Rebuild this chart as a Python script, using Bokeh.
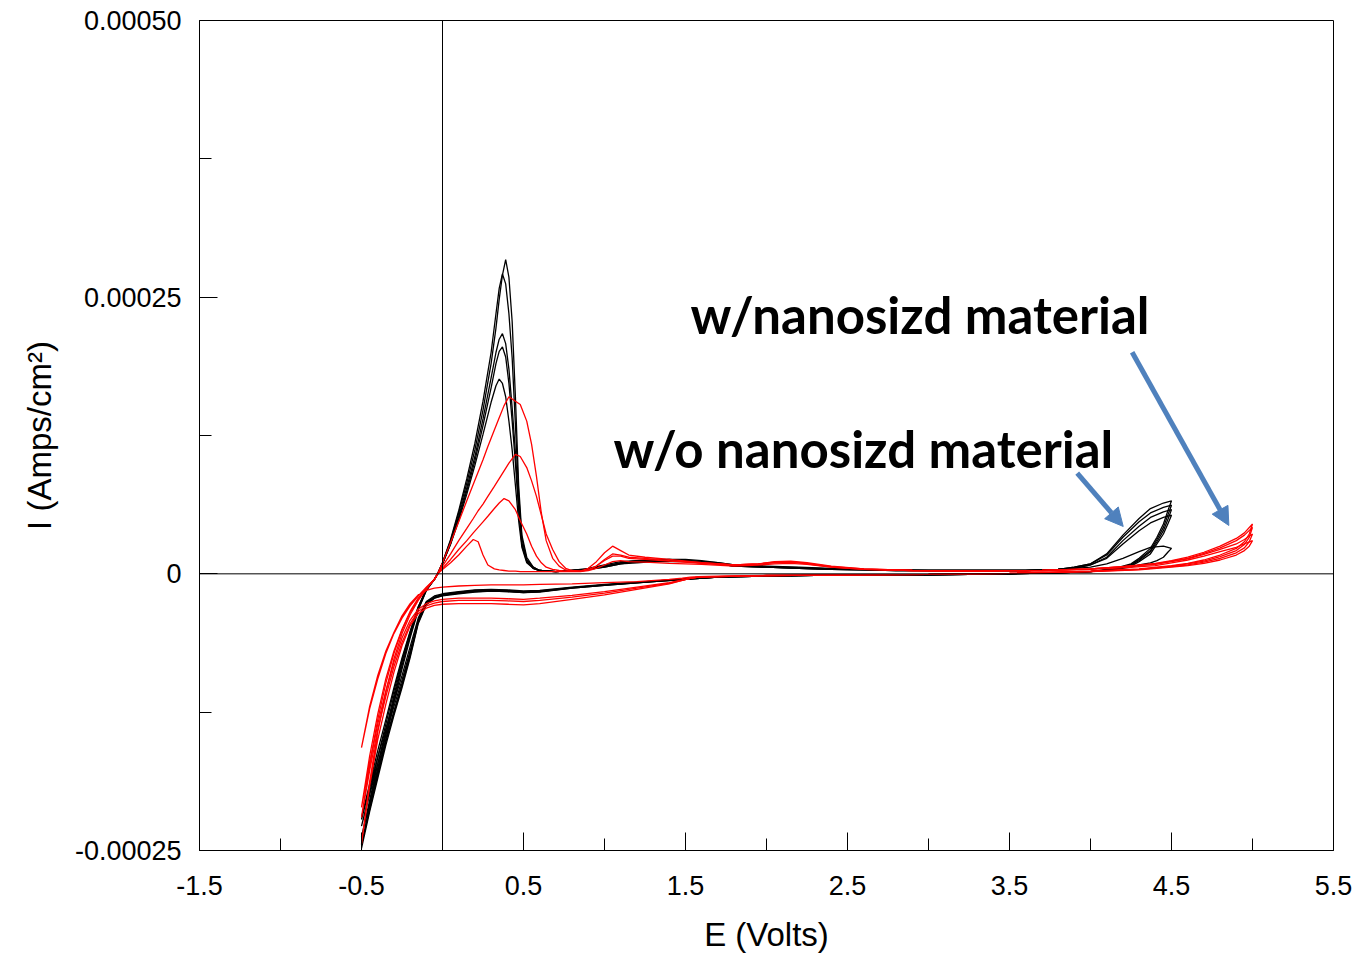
import numpy as np
from bokeh.plotting import figure
from bokeh.models import FixedTicker, Span, Arrow, NormalHead
from bokeh.core.properties import value
from bokeh.embed import file_html
from bokeh.resources import INLINE

UA = 1e-6  # all currents below are in µA/cm²

# ---------------- black cycles: without nanosized material ----------------
E_FWD_BLACK = [-0.50, -0.45, -0.40, -0.35, -0.30, -0.25, -0.20, -0.15, -0.10, -0.05, -0.03,
               0.00, 0.05, 0.10, 0.15, 0.20, 0.25, 0.30, 0.33, 0.35, 0.37, 0.39, 0.41, 0.43,
               0.45, 0.47, 0.49, 0.52, 0.56, 0.60, 0.70, 0.80, 0.90, 1.00, 1.10, 1.20, 1.30,
               1.40, 1.50, 1.60, 1.70, 1.80, 2.00, 2.20, 2.40, 2.60, 2.80, 3.00, 3.30, 3.60,
               3.80, 3.90, 4.00, 4.10, 4.20, 4.30, 4.37, 4.45, 4.50]
E_REV_BLACK = [4.48, 4.45, 4.41, 4.37, 4.30, 4.25, 4.15, 4.00, 3.80, 3.50, 3.00, 2.50, 2.00,
               1.70, 1.50, 1.30, 1.00, 0.80, 0.60, 0.50, 0.40, 0.30, 0.20, 0.10, 0.00, -0.05,
               -0.10, -0.15, -0.20, -0.25, -0.30, -0.35, -0.40, -0.45, -0.50]

I_FWD_B1 = [-248, -212, -180, -150, -116, -86, -58, -33, -15, -5, 0,
            10, 30, 55, 82, 112, 148, 190, 222, 248, 270, 284, 268, 228,
            160, 80, 35, 15, 6, 3, 2, 3, 5, 8, 11, 12, 13,
            13, 13, 12, 10, 8, 7, 6, 5, 4, 3.5, 3, 3, 3,
            4, 6, 9, 18, 35, 50, 59, 64, 66]
I_REV_B1 = [58, 45, 33, 23, 14, 9, 5, 2, 1, 0, -1, -1, -2,
            -3, -5, -7, -10.5, -13, -16, -17, -16, -15.5, -16.5, -18, -20, -22,
            -28, -45, -76, -103, -128, -155, -185, -215, -248]

I_FWD_B2 = [-245, -210, -176, -146, -113, -83, -56, -32, -15, -5, 0,
            10, 31, 57, 86, 118, 156, 200, 235, 258, 271, 262, 235, 195,
            135, 72, 32, 13, 6, 3, 2, 3, 4, 7, 10, 12, 12,
            13, 12, 11, 10, 8, 6.5, 5.5, 4.5, 4, 3.5, 3, 3, 3,
            4, 6, 9, 17, 33, 47, 55, 60, 62]
I_REV_B2 = [54, 42, 31, 21, 13, 8, 4.5, 2, 1, 0, -1, -1, -2,
            -3, -5, -7, -10.5, -13, -16.5, -17, -16, -15.5, -16, -17.5, -19.5, -22,
            -27, -44, -74, -101, -126, -152, -182, -213, -245]

I_FWD_B3 = [-238, -205, -172, -142, -110, -80, -54, -31, -14, -5, 0,
            9, 28, 52, 78, 106, 140, 177, 200, 212, 217, 208, 185, 150,
            110, 62, 28, 12, 5, 3, 2, 3, 4, 7, 10, 11, 12,
            12, 12, 11, 9, 7, 6, 5, 4, 3.5, 3, 3, 3, 3,
            4, 5, 8, 14, 27, 39, 46, 51, 53]
I_REV_B3 = [46, 36, 27, 18, 11, 7, 4, 2, 1, 0, -1, -1, -2,
            -3, -5, -7, -10, -12.5, -16, -16.5, -15.5, -15, -15.5, -17, -19, -21,
            -26, -43, -72, -99, -124, -150, -178, -208, -238]

I_FWD_B4 = [-228, -198, -166, -136, -106, -78, -53, -30, -14, -5, 0,
            9, 27, 50, 75, 102, 134, 168, 190, 201, 205, 196, 172, 138,
            100, 58, 26, 11, 5, 3, 2, 3, 4, 6, 9, 11, 11,
            12, 12, 11, 9, 7, 6, 5, 4, 3.5, 3, 3, 3, 3,
            4, 5, 8, 15, 30, 43, 51, 56, 58]
I_REV_B4 = [50, 39, 29, 20, 12, 8, 4, 2, 1, 0, -1, -1, -2,
            -3, -4.5, -6.5, -10, -12.5, -15.5, -16, -15, -14.5, -15, -16.5, -18.5, -21,
            -26, -42, -70, -96, -120, -145, -172, -200, -228]

I_FWD_B5 = [-220, -190, -160, -132, -103, -76, -52, -30, -14, -5, 0,
            9, 27, 48, 72, 98, 126, 155, 170, 176, 172, 160, 138, 112,
            80, 48, 24, 10, 5, 3, 2, 3, 4, 6, 9, 10, 11,
            11, 11, 10, 9, 7, 6, 5, 4, 3.5, 3, 3, 3, 3,
            4, 5, 6, 9, 14, 20, 24, 25, 23]
I_REV_B5 = [20, 15, 12, 10, 8, 6, 4, 2, 1, 0, -1, -1, -2,
            -3, -4.5, -6.5, -9.5, -12, -15, -15.5, -14.5, -14, -14.5, -16, -18, -20,
            -25, -40, -66, -92, -116, -140, -166, -194, -222]

# ---------------- red cycles: with nanosized material ----------------
E_FWD_RED = [-0.50, -0.45, -0.40, -0.35, -0.30, -0.25, -0.20, -0.15, -0.10, -0.05, -0.03,
             0.00, 0.05, 0.10, 0.15, 0.19, 0.22, 0.25, 0.28, 0.32, 0.35, 0.38, 0.41, 0.45,
             0.48, 0.52, 0.55, 0.58, 0.61, 0.64, 0.68, 0.72, 0.76, 0.80, 0.85, 0.90, 0.95,
             1.00, 1.05, 1.10, 1.15, 1.25, 1.40, 1.60, 1.80, 1.95, 2.05, 2.15, 2.25, 2.40,
             2.60, 2.90, 3.30, 3.70, 4.00, 4.20, 4.40, 4.50, 4.60, 4.70, 4.80, 4.90, 4.95, 5.00]
E_REV_RED = [4.98, 4.95, 4.90, 4.80, 4.70, 4.60, 4.50, 4.30, 4.00, 3.50, 3.00, 2.50, 2.00,
             1.70, 1.58, 1.53, 1.48, 1.40, 1.20, 1.00, 0.80, 0.60, 0.50, 0.40, 0.30, 0.20,
             0.10, 0.00, -0.05, -0.10, -0.15, -0.20, -0.25, -0.30, -0.35, -0.40, -0.45, -0.50]

I_FWD_R1 = [-244, -188, -143, -107, -77, -54, -37, -24, -14, -5, 0,
            10, 28, 47, 66, 81, 92, 103, 115, 130, 141, 152, 160, 156,
            153, 138, 117, 88, 55, 30, 14, 7, 3.5, 2.5, 2.5, 5, 11,
            19, 25, 21, 17, 15, 13, 10, 8, 9, 11, 11.5, 10, 7,
            4.5, 3, 2.5, 3, 4.5, 6.5, 9.5, 12, 15, 19.5, 25, 32, 37, 45]
I_REV_R1 = [36, 29, 23, 17, 12.5, 9.5, 7.5, 4.5, 2.5, 0.5, -0.5, -1, -1.5,
            -2.5, -3, -4, -6, -9, -14, -19, -23, -27, -28, -27.5, -27, -27,
            -27, -27.5, -28.5, -31, -36, -47, -65, -89, -118, -150, -192, -244]

I_FWD_R2 = [-220, -172, -132, -99, -72, -51, -35, -23, -13, -5, 0,
            7, 18, 30, 41, 50, 57, 63, 70, 79, 86, 93, 100, 108,
            106, 96, 84, 70, 53, 36, 22, 11, 5, 3, 2.5, 3.5, 7,
            13, 18, 17, 15, 14, 12, 10, 8, 9, 10.5, 11, 9.5, 6.5,
            4.5, 3, 2.5, 3, 4.5, 6.5, 9, 11.5, 14, 18.5, 23.5, 30, 35, 42]
I_REV_R2 = [33, 26.5, 21, 15.5, 11.5, 9, 7, 4, 2.5, 0.5, -0.5, -1, -1.5,
            -2.5, -3, -4, -6, -8.5, -13, -17.5, -21, -24, -25, -24.5, -24, -24,
            -24, -25, -26.5, -29, -34, -45, -62, -84, -111, -141, -178, -220]

I_FWD_R3 = [-211, -165, -127, -95, -70, -50, -34, -22, -13, -5, 0,
            5, 13, 22, 30, 37, 42, 47, 52, 59, 64, 68, 66, 58,
            48, 36, 25, 16, 10, 6, 4, 3, 2.5, 2.5, 2.5, 3.5, 7,
            12, 16, 16, 14, 13, 11.5, 9.5, 8, 9, 10, 10.5, 9, 6,
            4, 3, 2.5, 3, 4.5, 6.5, 8.5, 11, 13.5, 17.5, 22, 27, 31, 36]
I_REV_R3 = [29, 23.5, 19, 14, 10.5, 8, 6.5, 4, 2, 0.5, -0.5, -1, -1.5,
            -2.5, -3, -4, -5.5, -8, -12, -16, -19.5, -22, -23, -22.5, -22, -22,
            -22, -23, -24.5, -27, -32, -42, -58, -80, -106, -136, -172, -211]

I_FWD_R4 = [-157, -122, -95, -72, -54, -40, -29, -20, -12, -5, 0,
            4, 10, 17, 25, 31, 29, 17, 8, 4.5, 3.5, 3, 2.5, 2.5,
            2, 2, 2, 2, 2, 2, 2, 2, 2, 2, 2, 3, 5,
            8, 11, 12, 11, 10.5, 9.5, 8.5, 7, 8, 9, 9.5, 8.5, 6,
            4, 3, 2.5, 3, 4, 5.5, 7.5, 10, 12.5, 16, 20, 24, 27, 30]
I_REV_R4 = [25, 21, 17, 12.5, 9.5, 7.5, 6, 3.5, 2, 0.5, -0.5, -1, -1.5,
            -2, -2.5, -3, -4, -5, -7, -8, -9, -9.5, -10, -10, -10, -10.5,
            -11, -12, -13, -15, -19, -27, -38, -53, -70, -92, -120, -157]

BLACK_CYCLES = [(I_FWD_B1, I_REV_B1), (I_FWD_B2, I_REV_B2), (I_FWD_B3, I_REV_B3),
                (I_FWD_B4, I_REV_B4), (I_FWD_B5, I_REV_B5)]
RED_CYCLES = [(I_FWD_R1, I_REV_R1), (I_FWD_R2, I_REV_R2),
              (I_FWD_R3, I_REV_R3), (I_FWD_R4, I_REV_R4)]

# axes
X_MAJOR = [-1.5, -0.5, 0.5, 1.5, 2.5, 3.5, 4.5, 5.5]
X_LABELS = ["-1.5", "-0.5", "0.5", "1.5", "2.5", "3.5", "4.5", "5.5"]
X_MINOR = [-1.0, 0.0, 1.0, 2.0, 3.0, 4.0, 5.0]
Y_MAJOR = [-0.00025, 0.0, 0.00025, 0.0005]
Y_MINOR = [-0.000125, 0.000125, 0.000375]
Y_LABELS = ["-0.00025", "0", "0.00025", "0.00050"]

# annotations
LABELS = ["w/nanosizd material", "w/o nanosizd material"]
LABEL_E = [1.531, 1.056]
LABEL_I = [0.0002340, 0.0001133]
ARROW_E0 = [4.257, 3.918]
ARROW_I0 = [0.0002003, 0.0000910]
ARROW_E1 = [4.854, 4.202]
ARROW_I1 = [0.0000437, 0.0000428]

p = figure(width=1353, height=955, x_range=(-1.5, 5.5), y_range=(-0.00025, 0.0005),
           output_backend="svg", toolbar_location=None,
           min_border_left=199, min_border_right=20, min_border_top=20, min_border_bottom=105)
p.xgrid.visible = False
p.ygrid.visible = False
p.outline_line_color = "black"
p.outline_line_width = 1
p.outline_line_alpha = 1
p.background_fill_color = "white"
p.border_fill_color = "white"

for ax in (p.xaxis[0], p.yaxis[0]):
    ax.major_tick_in = 18
    ax.major_tick_out = 0
    ax.minor_tick_in = 12
    ax.minor_tick_out = 0
    ax.axis_line_color = "black"
    ax.major_tick_line_color = "black"
    ax.minor_tick_line_color = "black"
    ax.major_label_text_font = "Liberation Sans"
    ax.major_label_text_font_size = "27px"
    ax.major_label_text_color = "black"
    ax.axis_label_text_font = "Liberation Sans"
    ax.axis_label_text_font_size = "33px"
    ax.axis_label_text_font_style = "normal"
    ax.axis_label_text_color = "black"

p.xaxis.major_label_standoff = 25
p.yaxis.major_label_standoff = 18
p.xaxis.ticker = FixedTicker(ticks=X_MAJOR, minor_ticks=X_MINOR)
p.yaxis.ticker = FixedTicker(ticks=Y_MAJOR, minor_ticks=Y_MINOR)
p.xaxis.major_label_overrides = {t: s for t, s in zip(X_MAJOR, X_LABELS)}
p.yaxis.major_label_overrides = {t: s for t, s in zip(Y_MAJOR, Y_LABELS)}
p.xaxis.axis_label = "E (Volts)"
p.yaxis.axis_label = "I (Amps/cm²)"
p.xaxis.axis_label_standoff = 18
p.yaxis.axis_label_standoff = 14

p.add_layout(Span(location=0, dimension="width", line_color="black", line_width=1))
p.add_layout(Span(location=0, dimension="height", line_color="black", line_width=1))

for fwd, rev in BLACK_CYCLES:
    xs = E_FWD_BLACK + E_REV_BLACK
    ys = (np.array(fwd + rev, dtype=float) * UA).tolist()
    p.line(xs, ys, line_color="black", line_width=1.3)

for fwd, rev in RED_CYCLES:
    xs = E_FWD_RED + E_REV_RED
    ys = (np.array(fwd + rev, dtype=float) * UA).tolist()
    p.line(xs, ys, line_color="#FF0000", line_width=1.3)

p.text(x=LABEL_E, y=LABEL_I, text=LABELS, text_font=value("Lato"), text_font_style="bold",
       text_font_size="51px", text_color="black", text_align="left", text_baseline="alphabetic")

for x0, y0, x1, y1 in zip(ARROW_E0, ARROW_I0, ARROW_E1, ARROW_I1):
    p.add_layout(Arrow(end=NormalHead(size=18, fill_color="#4F81BD", line_color="#4F81BD"),
                       x_start=x0, y_start=y0, x_end=x1, y_end=y1,
                       line_color="#4F81BD", line_width=5))

open("out.html", "w").write(file_html(p, INLINE))
